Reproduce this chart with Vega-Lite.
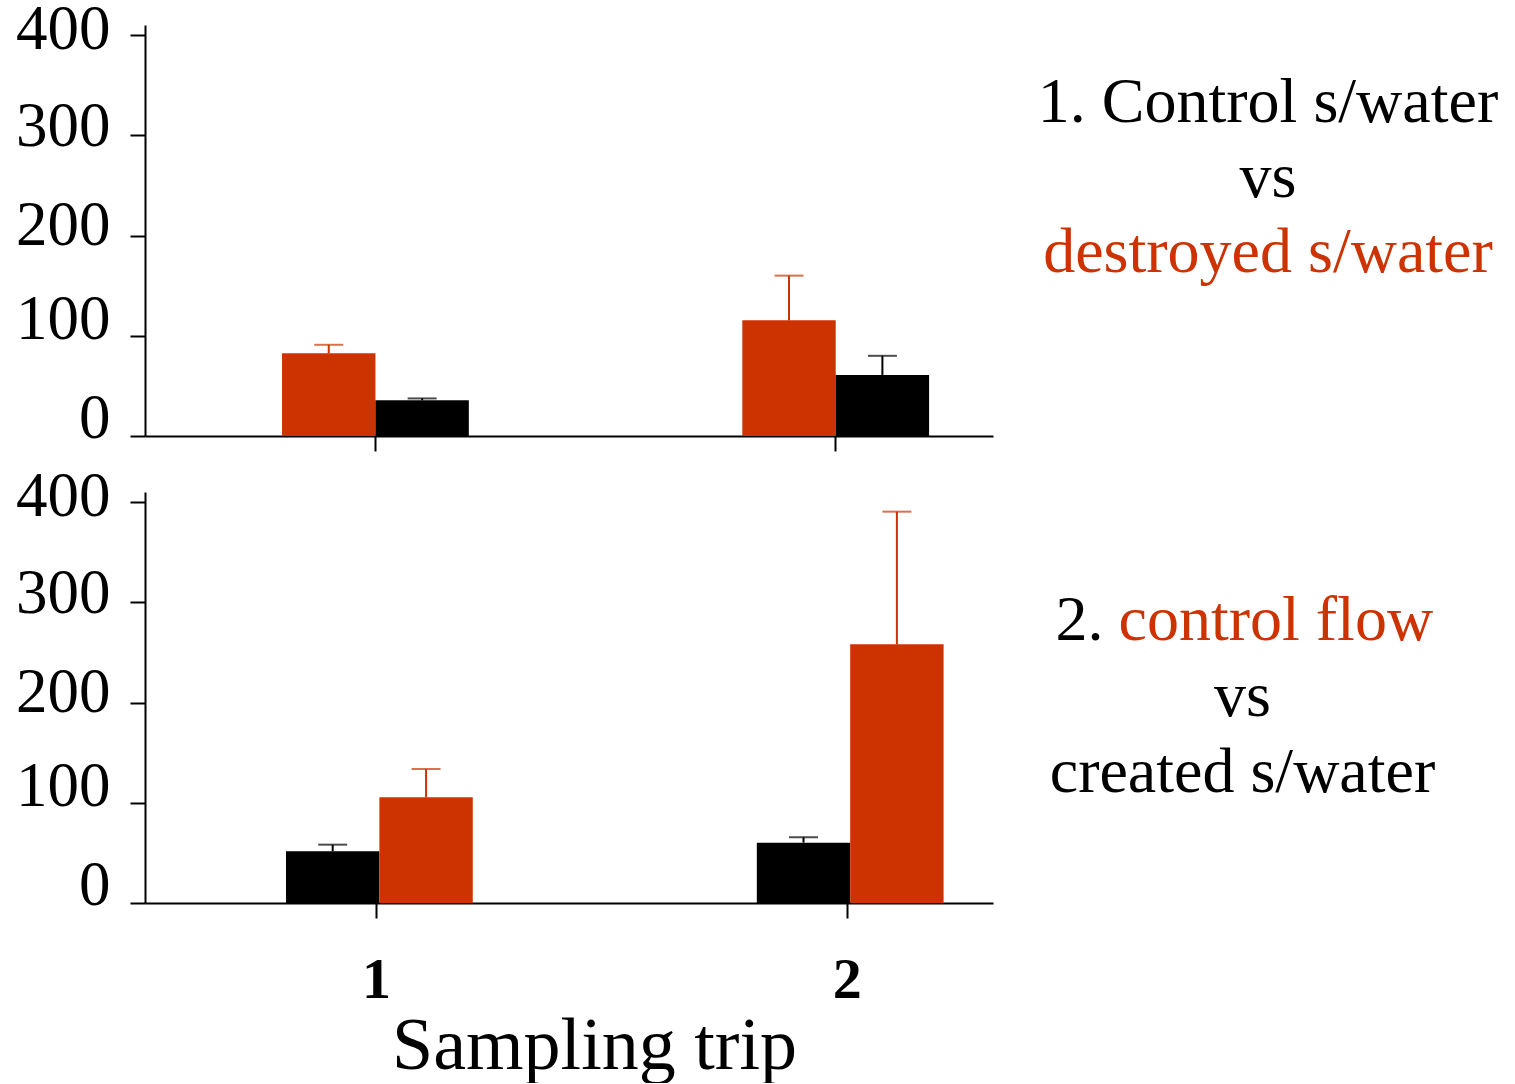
{
  "$schema": "https://vega.github.io/schema/vega-lite/v6.json",
  "background": "white",
  "padding": {"left": 15, "top": -2, "right": 0, "bottom": 0},
  "config": {
    "font": "Liberation Serif",
    "view": {"stroke": null},
    "axis": {
      "grid": false,
      "domainColor": "black",
      "domainWidth": 2,
      "tickColor": "black",
      "tickWidth": 2,
      "tickSize": 15,
      "labelColor": "black",
      "titleColor": "black",
      "labelFont": "Liberation Serif",
      "titleFont": "Liberation Serif"
    },
    "axisY": {
      "labelOffset": {
        "condition": [
          {"test": "datum.value === 0", "value": -18},
          {"test": "datum.value === 100", "value": -16},
          {"test": "datum.value === 200", "value": -10},
          {"test": "datum.value === 300", "value": -9}
        ],
        "value": -6
      }
    }
  },
  "datasets": {
    "bars": [
      {"panel": 1, "trip": 1, "site": "destroyed s/water", "role": "impact", "mean": 82.5, "upper": 91},
      {"panel": 1, "trip": 1, "site": "Control s/water", "role": "control", "mean": 35.6, "upper": 37.5},
      {"panel": 1, "trip": 2, "site": "destroyed s/water", "role": "impact", "mean": 115.4, "upper": 160},
      {"panel": 1, "trip": 2, "site": "Control s/water", "role": "control", "mean": 60.9, "upper": 80},
      {"panel": 2, "trip": 1, "site": "created s/water", "role": "impact", "mean": 51.6, "upper": 58.2},
      {"panel": 2, "trip": 1, "site": "control flow", "role": "control", "mean": 105.4, "upper": 133.7},
      {"panel": 2, "trip": 2, "site": "created s/water", "role": "impact", "mean": 60.2, "upper": 65.6},
      {"panel": 2, "trip": 2, "site": "control flow", "role": "control", "mean": 258, "upper": 390.4}
    ],
    "notes": [
      {"panel": 1, "line": 1, "piece": "site", "text": "1. Control s/water", "site": "Control s/water"},
      {"panel": 1, "line": 2, "piece": "plain", "text": "vs"},
      {"panel": 1, "line": 3, "piece": "site", "text": "destroyed s/water", "site": "destroyed s/water"},
      {"panel": 2, "line": 1, "piece": "number", "text": "2."},
      {"panel": 2, "line": 1, "piece": "inline", "text": "control flow", "site": "control flow"},
      {"panel": 2, "line": 2, "piece": "plain", "text": "vs"},
      {"panel": 2, "line": 3, "piece": "site", "text": "created s/water", "site": "created s/water"}
    ]
  },
  "bounds": "flush",
  "columns": 2,
  "spacing": {"row": 56, "column": 30},
  "concat": [
    {
      "width": 848,
      "height": 411,
      "data": {"name": "bars"},
      "transform": [{"filter": "datum.panel === 1"}],
      "encoding": {
        "x": {
          "field": "trip",
          "type": "ordinal",
          "scale": {"paddingInner": 0.5942, "paddingOuter": 0.2183, "align": 0.682},
          "axis": {"title": null, "labels": false}
        },
        "xOffset": {"field": "role", "type": "nominal", "scale": {"domain": ["impact", "control"]}},
        "color": {
          "field": "site",
          "type": "nominal",
          "legend": null,
          "scale": {
            "domain": ["destroyed s/water", "Control s/water", "control flow", "created s/water"],
            "range": ["#CC3300", "#000000", "#CC3300", "#000000"]
          }
        }
      },
      "layer": [
        {
          "mark": {"type": "bar"},
          "encoding": {
            "y": {
              "field": "mean",
              "type": "quantitative",
              "scale": {"domain": [0, 410], "nice": false},
              "axis": {
                "title": null,
                "values": [0, 100, 200, 300, 400],
                "labelFontSize": 63,
                "labelPadding": 20
              }
            }
          }
        },
        {
          "mark": {"type": "rule", "strokeWidth": 2},
          "encoding": {
            "y": {"field": "mean", "type": "quantitative"},
            "y2": {"field": "upper"}
          }
        },
        {
          "mark": {"type": "tick", "thickness": 2, "size": 29},
          "encoding": {"y": {"field": "upper", "type": "quantitative"}}
        }
      ]
    },
    {
      "width": 490,
      "height": 411,
      "data": {"name": "notes"},
      "transform": [{"filter": "datum.panel === 1"}],
      "encoding": {
        "y": {
          "field": "line",
          "type": "quantitative",
          "axis": null,
          "scale": {"domain": [-0.2933, 5.1867], "nice": false, "zero": false, "reverse": true}
        },
        "text": {"field": "text"}
      },
      "layer": [
        {
          "transform": [{"filter": "datum.piece === 'site'"}],
          "mark": {"type": "text", "fontSize": 64, "baseline": "alphabetic", "align": "center"},
          "encoding": {
            "color": {"field": "site", "type": "nominal", "legend": null}
          }
        },
        {
          "transform": [{"filter": "datum.piece === 'plain'"}],
          "mark": {"type": "text", "fontSize": 64, "baseline": "alphabetic", "align": "center", "color": "black"}
        }
      ]
    },
    {
      "width": 848,
      "height": 411,
      "data": {"name": "bars"},
      "transform": [{"filter": "datum.panel === 2"}],
      "encoding": {
        "x": {
          "field": "trip",
          "type": "ordinal",
          "scale": {"paddingInner": 0.5969, "paddingOuter": 0.199, "align": 0.7524},
          "axis": {
            "title": "Sampling trip",
            "titleFontSize": 74,
            "titleFontWeight": "normal",
            "titleBaseline": "alphabetic",
            "titleAlign": "center",
            "titleX": 449,
            "titleY": 165,
            "labelAngle": 0,
            "labelFontSize": 58,
            "labelFontWeight": "bold",
            "labelBaseline": "alphabetic",
            "labelPadding": 79,
            "tickOffset": -5
          }
        },
        "xOffset": {"field": "role", "type": "nominal", "scale": {"domain": ["impact", "control"]}},
        "color": {"field": "site", "type": "nominal", "legend": null}
      },
      "layer": [
        {
          "mark": {"type": "bar"},
          "encoding": {
            "y": {
              "field": "mean",
              "type": "quantitative",
              "scale": {"domain": [0, 410], "nice": false},
              "axis": {
                "title": null,
                "values": [0, 100, 200, 300, 400],
                "labelFontSize": 63,
                "labelPadding": 20
              }
            }
          }
        },
        {
          "mark": {"type": "rule", "strokeWidth": 2},
          "encoding": {
            "y": {"field": "mean", "type": "quantitative"},
            "y2": {"field": "upper"}
          }
        },
        {
          "mark": {"type": "tick", "thickness": 2, "size": 29},
          "encoding": {"y": {"field": "upper", "type": "quantitative"}}
        }
      ]
    },
    {
      "width": 439,
      "height": 411,
      "data": {"name": "notes"},
      "transform": [{"filter": "datum.panel === 2"}],
      "encoding": {
        "y": {
          "field": "line",
          "type": "quantitative",
          "axis": null,
          "scale": {"domain": [-0.947, 4.461], "nice": false, "zero": false, "reverse": true}
        },
        "text": {"field": "text"}
      },
      "layer": [
        {
          "transform": [{"filter": "datum.piece === 'site'"}],
          "mark": {"type": "text", "fontSize": 64, "baseline": "alphabetic", "align": "center"},
          "encoding": {
            "color": {"field": "site", "type": "nominal", "legend": null}
          }
        },
        {
          "transform": [{"filter": "datum.piece === 'inline'"}],
          "mark": {"type": "text", "fontSize": 64, "baseline": "alphabetic", "align": "left", "dx": -124},
          "encoding": {
            "color": {"field": "site", "type": "nominal", "legend": null}
          }
        },
        {
          "transform": [{"filter": "datum.piece === 'number'"}],
          "mark": {"type": "text", "fontSize": 64, "baseline": "alphabetic", "align": "right", "dx": -139, "color": "black"}
        },
        {
          "transform": [{"filter": "datum.piece === 'plain'"}],
          "mark": {"type": "text", "fontSize": 64, "baseline": "alphabetic", "align": "center", "color": "black"}
        }
      ]
    }
  ]
}
